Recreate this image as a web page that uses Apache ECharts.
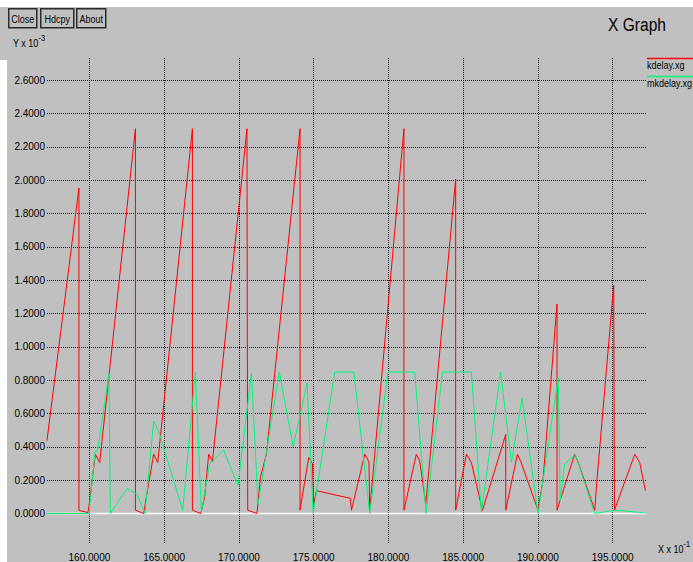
<!DOCTYPE html>
<html>
<head>
<meta charset="utf-8">
<title>X Graph</title>
<script src="https://cdn.jsdelivr.net/npm/echarts@6/dist/echarts.min.js"></script>
<style>
  html, body { margin: 0; padding: 0; background: #c0c0c0; }
  #main { width: 693px; height: 562px; }
</style>
</head>
<body>
<div id="main"></div>
<script>
// kdelay.xg (red)
var kdelayX = [157.16, 159.30, 159.30, 159.91, 160.02, 160.40, 160.69, 163.08, 163.08, 163.63, 163.81, 164.30, 164.57,
  166.89, 166.89, 167.45, 167.71, 167.98, 168.23, 170.54, 170.56, 170.59, 171.21, 171.44, 171.84, 174.09, 174.09,
  174.67, 174.92, 175.00, 175.18, 177.46, 177.53, 178.42, 178.70, 178.75, 181.04, 181.04, 181.87, 182.09, 182.50,
  184.50, 184.50, 185.22, 185.55, 186.29, 187.85, 187.85, 188.63, 188.86, 190.01, 190.34, 191.28, 191.28, 192.46,
  192.68, 193.80, 193.95, 195.07, 195.12, 196.48, 196.81, 197.19]
var kdelayY = [0.436, 1.953, 0.018, 0.006, 0.078, 0.356, 0.306, 2.309, 0.02, 0.0, 0.10, 0.356, 0.306,
  2.309, 0.02, 0.0, 0.10, 0.356, 0.312, 2.309, 1.16, 0.02, 0.0, 0.217, 0.356, 2.309, 0.02,
  0.336, 0.30, 0.05, 0.137, 0.091, 0.02, 0.356, 0.31, 0.02, 2.309, 0.02, 0.356, 0.316, 0.06,
  2.007, 0.02, 0.356, 0.306, 0.018, 0.475, 0.02, 0.356, 0.31, 0.02, 0.2, 1.257, 0.02, 0.356,
  0.31, 0.02, 0.2, 1.37, 0.02, 0.356, 0.306, 0.137]

// mkdelay.xg (green)
var mkdelayX = [157.16, 159.97, 160.38, 160.56, 161.31, 161.40, 162.52, 163.20, 163.72, 164.30, 164.70, 166.24,
  167.09, 167.49, 168.05, 168.98, 169.94, 170.84, 171.28, 172.70, 173.63, 174.56, 174.97, 176.41, 177.69, 178.75,
  179.97, 181.76, 182.52, 183.62, 185.55, 186.22, 187.51, 188.23, 188.94, 190.01, 191.36, 191.49, 191.79, 192.50,
  193.80, 195.02, 195.47, 197.19]
var mkdelayY = [0, 0, 0.37, 0.38, 0.84, 0, 0.15, 0.115, 0, 0.555, 0.475, 0.018,
  0.849, 0.01, 0.30, 0.38, 0.167, 0.843, 0.054, 0.849, 0.40, 0.783, 0, 0.849, 0.849, 0,
  0.849, 0.849, 0, 0.849, 0.849, 0.01, 0.849, 0.306, 0.694, 0, 0.814, 0.078, 0.296, 0.356,
  0, 0.018, 0.018, 0.003]

var xTicks = [160, 165, 170, 175, 180, 185, 190, 195]
var yTicks = [0, 0.2, 0.4, 0.6, 0.8, 1.0, 1.2, 1.4, 1.6, 1.8, 2.0, 2.2, 2.4, 2.6]
var xMin = 157.164, xMax = 197.23
var yMin = -0.183, yMax = 2.733

function zip(xs, ys) {
  return xs.map(function (x, i) { return [x, ys[i]] })
}

var font = '"Liberation Sans", Arial, sans-serif'
var gridLine = { color: '#1e1e1e', width: 1, type: 'dotted' }
var narrow = 0.82

var chart = echarts.init(document.getElementById('main'), null, { renderer: 'svg' })

function button(label, x, w) {
  return {
    type: 'group', left: x, top: 8,
    children: [
      { type: 'rect', shape: { x: 0, y: 0, width: w, height: 19 },
        style: { fill: '#c0c0c0', stroke: '#2a2a2a', lineWidth: 1.5 } },
      { type: 'text', x: w / 2, y: 10, scaleX: narrow,
        style: { text: label, fill: '#000', font: '11px ' + font, align: 'center', verticalAlign: 'middle' } }
    ]
  }
}

function label(text, x, y, size) {
  return { type: 'text', x: x, y: y, scaleX: narrow,
    style: { text: text, font: size + 'px ' + font, fill: '#000' } }
}

function supLabel(base, sup, x, y) {
  return { type: 'text', x: x, y: y, scaleX: narrow,
    style: { text: '{a|' + base + '}{b|' + sup + '}', font: '11px ' + font, fill: '#000',
      rich: { a: { fontSize: 11, fontFamily: font, color: '#000', padding: [6, 0, 0, 0] },
              b: { fontSize: 9, fontFamily: font, color: '#000', padding: [0, 0, 4, 0] } } } }
}

chart.setOption({
  animation: false,
  backgroundColor: '#c0c0c0',
  grid: { left: 47, right: 47, top: 58, bottom: 15 },
  xAxis: {
    type: 'value',
    min: xMin, max: xMax,
    axisLine: { show: false, onZero: false },
    axisTick: { show: false, customValues: xTicks },
    splitLine: { show: true, customValues: xTicks, lineStyle: gridLine },
    axisLabel: {
      customValues: xTicks, margin: 8,
      fontSize: 10, color: '#000', fontFamily: font,
      formatter: function (v) { return v.toFixed(4) }
    }
  },
  yAxis: {
    type: 'value',
    min: yMin, max: yMax,
    axisLine: { show: false },
    axisTick: { show: false, customValues: yTicks },
    splitLine: { show: true, customValues: yTicks, lineStyle: gridLine },
    axisLabel: {
      customValues: yTicks, margin: 2,
      fontSize: 10, color: '#000', fontFamily: font,
      formatter: function (v) { return v.toFixed(4) }
    }
  },
  series: [
    {
      name: 'zero',
      type: 'line',
      data: [[xMin, 0], [xMax, 0]],
      symbol: 'none',
      silent: true,
      lineStyle: { color: '#ffffff', width: 1.5 },
      z: 1
    },
    {
      name: 'kdelay.xg',
      type: 'line',
      data: zip(kdelayX, kdelayY),
      symbol: 'none',
      lineStyle: { color: '#ff0000', width: 1 },
      z: 2
    },
    {
      name: 'mkdelay.xg',
      type: 'line',
      data: zip(mkdelayX, mkdelayY),
      symbol: 'none',
      lineStyle: { color: '#00f878', width: 1 },
      z: 3
    }
  ],
  graphic: [
    { type: 'rect', left: 0, top: 0, shape: { width: 693, height: 7 }, style: { fill: '#ffffff' } },
    { type: 'rect', left: 0, top: 60, shape: { width: 7, height: 502 }, style: { fill: '#ffffff' } },
    button('Close', 8, 28),
    button('Hdcpy', 40, 33),
    button('About', 76, 29),
    label('X Graph', 608, 15, 19),
    supLabel('Y x 10', '-3', 13, 32),
    supLabel('X x 10', '-1', 658, 538),
    // legend
    { type: 'line', shape: { x1: 647, y1: 58.5, x2: 693, y2: 58.5 }, style: { stroke: '#ff0000', lineWidth: 1.5 } },
    label('kdelay.xg', 647, 60, 11),
    { type: 'line', shape: { x1: 647, y1: 76.5, x2: 693, y2: 76.5 }, style: { stroke: '#00f878', lineWidth: 1.5 } },
    label('mkdelay.xg', 647, 78, 11)
  ]
})
</script>
</body>
</html>
